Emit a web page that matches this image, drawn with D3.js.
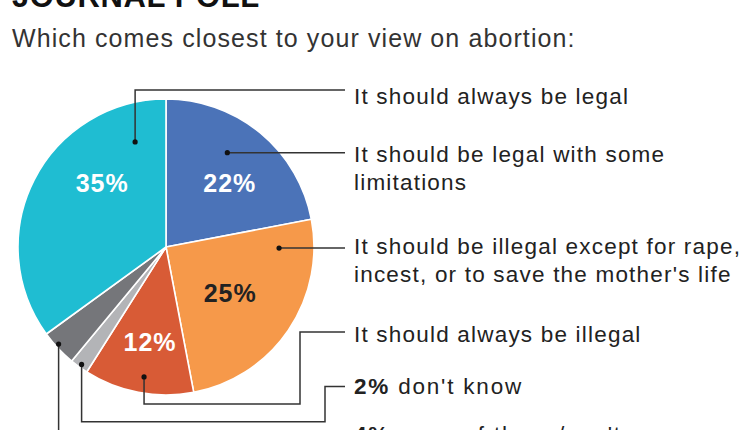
<!DOCTYPE html>
<html>
<head>
<meta charset="utf-8">
<script src="https://cdn.jsdelivr.net/npm/d3@7"></script>
<style>
  body { margin: 0; background: #fff; }
  text { font-family: "Liberation Sans", Arial, Helvetica, sans-serif; }
</style>
</head>
<body>
<div id="chart"></div>
<script>
// slices in drawing order, clockwise from 12 o'clock
const answers = [
  ["It should be legal with some", "limitations"],
  ["It should be illegal except for rape,", "incest, or to save the mother's life"],
  ["It should always be illegal"],
  ["don't know"],
  ["none of these/can't say"],
  ["It should always be legal"]
];
const shares = [22, 25, 12, 2, 4, 35];
const sliceColors = ["#4b73b8", "#f6994a", "#d85b36", "#b3b4b7", "#75767a", "#1fbdd2"];
const showInside = [true, true, true, false, false, true];
const boldPrefix = [false, false, false, true, true, false];

const title = "JOURNAL POLL";
const subtitle = "Which comes closest to your view on abortion:";

const W = 750, H = 430;
const cx = 166, cy = 247, R = 148;
const textX = 354, lineEnd = 345;

// where labels, dots and leader lines sit (t = fraction across slice, r = fraction of radius)
const layout = [
  { lt: 0.568, lr: 0.61, lc: "#fff", dt: 0.417, dr: 0.76, kind: "flat", base: [161.5, 190] },
  { lt: 0.517, lr: 0.534, lc: "#222", dt: 0.126, dr: 0.764, kind: "flat", base: [253.5, 282] },
  { lt: 0.47, lr: 0.655, lc: "#fff", dt: 0.472, dr: 0.89, kind: "elbow", low: 404, ex: 300, ly: 332, base: [341.5] },
  { dt: 0.46, dr: 0.977, kind: "elbow", low: 421.7, ex: 325, ly: 386.5, base: [393.5] },
  { dt: 0.576, dr: 0.978, kind: "elbow", low: 448, ex: 330, ly: 436, base: [442] },
  { lt: 0.643, lr: 0.61, lc: "#fff", dt: 0.87, dr: 0.74, kind: "up", ly: 90, base: [104] }
];

const svg = d3.select("#chart").append("svg")
  .attr("width", W).attr("height", H);

svg.append("text")
  .attr("x", 12).attr("y", 7)
  .attr("font-size", 31).attr("font-weight", 900)
  .attr("letter-spacing", 0.6)
  .attr("fill", "#111")
  .text(title);

svg.append("text")
  .attr("x", 12).attr("y", 47)
  .attr("font-size", 25)
  .attr("letter-spacing", 1.1)
  .attr("fill", "#333")
  .text(subtitle);

const pie = d3.pie().sort(null).value(d => d);
const arcs = pie(shares);
const arc = d3.arc().innerRadius(0).outerRadius(R);

const g = svg.append("g").attr("transform", `translate(${cx},${cy})`);

g.selectAll("path.slice")
  .data(arcs)
  .enter()
  .append("path")
  .attr("class", "slice")
  .attr("d", arc)
  .attr("fill", (d, i) => sliceColors[i])
  .attr("stroke", "#fff")
  .attr("stroke-width", 1.6)
  .attr("stroke-linejoin", "round");

function polar(a, t, r) {
  const ang = a.startAngle + (a.endAngle - a.startAngle) * t;
  return [Math.sin(ang) * r * R, -Math.cos(ang) * r * R];
}

// percentages inside the big slices
arcs.forEach((a, i) => {
  if (!showInside[i]) return;
  const p = polar(a, layout[i].lt, layout[i].lr);
  g.append("text")
    .attr("x", p[0]).attr("y", p[1])
    .attr("dy", "0.35em")
    .attr("text-anchor", "middle")
    .attr("font-size", 25).attr("font-weight", "bold")
    .attr("letter-spacing", 1)
    .attr("fill", layout[i].lc)
    .text(a.data + "%");
});

// leader lines
const line = d3.line();
arcs.forEach((a, i) => {
  const L = layout[i];
  const p = polar(a, L.dt, L.dr);
  const x = cx + p[0], y = cy + p[1];
  let pts;
  if (L.kind === "flat") pts = [[x, y], [lineEnd, y]];
  else if (L.kind === "up") pts = [[x, y], [x, L.ly], [lineEnd, L.ly]];
  else pts = [[x, y], [x, L.low], [L.ex, L.low], [L.ex, L.ly], [lineEnd, L.ly]];
  svg.append("path")
    .attr("d", line(pts))
    .attr("fill", "none")
    .attr("stroke", "#333")
    .attr("stroke-width", 1.5);
  svg.append("circle")
    .attr("cx", x).attr("cy", y).attr("r", 2.6)
    .attr("fill", "#111");
});

// answer texts on the right
answers.forEach((lines, i) => {
  lines.forEach((ln, j) => {
    const t = svg.append("text")
      .attr("x", textX).attr("y", layout[i].base[j])
      .attr("font-size", 22.5)
      .attr("letter-spacing", boldPrefix[i] ? 1.8 : 1.2)
      .attr("fill", "#222");
    if (boldPrefix[i] && j === 0) {
      t.append("tspan").attr("font-weight", "bold").text(shares[i] + "%");
      t.append("tspan").text(" " + ln);
    } else {
      t.text(ln);
    }
  });
});
</script>
</body>
</html>
